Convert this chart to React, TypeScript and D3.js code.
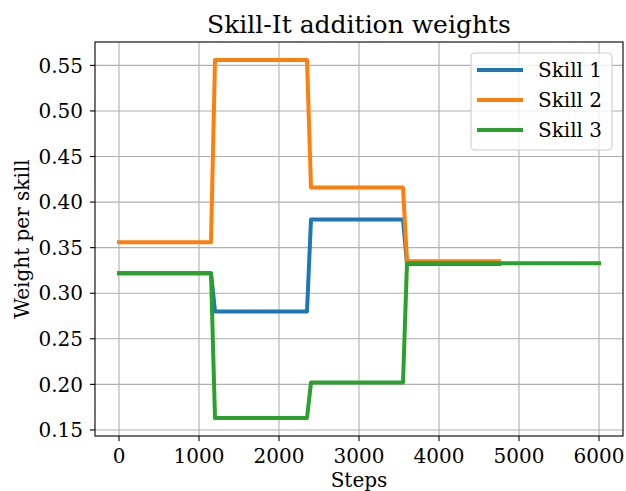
import React from "react";
import * as d3 from "d3";

const steps = [0, 1150, 1200, 2350, 2400, 3550, 3600, 4750, 6000];
const skill1 = [0.322, 0.322, 0.280, 0.280, 0.381, 0.381, 0.332, 0.332, null];
const skill2 = [0.356, 0.356, 0.556, 0.556, 0.416, 0.416, 0.335, 0.335, null];
const skill3 = [0.322, 0.322, 0.163, 0.163, 0.202, 0.202, 0.333, 0.333, 0.333];
const seriesNames = ["Skill 1", "Skill 2", "Skill 3"];
const colors = ["#1f77b4", "#ff7f0e", "#2ca02c"];
const xTicks = [0, 1000, 2000, 3000, 4000, 5000, 6000];
const yTicks = [0.15, 0.2, 0.25, 0.3, 0.35, 0.4, 0.45, 0.5, 0.55];

const W = 626, H = 491;
const L = 95, R = 623, T = 42, B = 436;
const FONT = "'DejaVu Serif', serif";
const FS = 20;

export default function App() {
  const all = [skill1, skill2, skill3];
  const vals = all.flat().filter((v) => v != null) as number[];
  const yMin = d3.min(vals)!, yMax = d3.max(vals)!;
  const yPad = (yMax - yMin) * 0.05;
  const xMin = d3.min(steps)!, xMax = d3.max(steps)!;
  const xPad = (xMax - xMin) * 0.05;
  const x = d3.scaleLinear().domain([xMin - xPad, xMax + xPad]).range([L, R]);
  const y = d3.scaleLinear().domain([yMin - yPad, yMax + yPad]).range([B, T]);

  const line = d3
    .line<[number, number | null]>()
    .defined((d) => d[1] != null)
    .x((d) => x(d[0]))
    .y((d) => y(d[1] as number));

  const lx = 471, ly = 53, lw = 141, lh = 97;

  return (
    <svg width={W} height={H} style={{ position: "absolute", left: 0, top: 0, background: "#fff" }} fontFamily={FONT}>
      <rect x={0} y={0} width={W} height={H} fill="#fff" />
      {xTicks.map((t) => (
        <line key={"gx" + t} x1={x(t)} x2={x(t)} y1={T} y2={B} stroke="#b0b0b0" strokeWidth={1.1} />
      ))}
      {yTicks.map((t) => (
        <line key={"gy" + t} x1={L} x2={R} y1={y(t)} y2={y(t)} stroke="#b0b0b0" strokeWidth={1.1} />
      ))}
      {all.map((s, i) => (
        <path
          key={i}
          d={line(steps.map((st, j) => [st, s[j]]) as any) || ""}
          fill="none"
          stroke={colors[i]}
          strokeWidth={4}
          strokeLinejoin="round"
          strokeLinecap="square"
        />
      ))}
      <rect x={L} y={T} width={R - L} height={B - T} fill="none" stroke="#000" strokeWidth={1.1} />
      {xTicks.map((t) => (
        <g key={"xt" + t}>
          <line x1={x(t)} x2={x(t)} y1={B} y2={B + 5} stroke="#000" strokeWidth={1.1} />
          <text x={x(t)} y={462.5} textAnchor="middle" fontSize={FS}>
            {t}
          </text>
        </g>
      ))}
      {yTicks.map((t) => (
        <g key={"yt" + t}>
          <line x1={L - 5} x2={L} y1={y(t)} y2={y(t)} stroke="#000" strokeWidth={1.1} />
          <text x={L - 12} y={y(t)} dy="0.36em" textAnchor="end" fontSize={FS}>
            {t.toFixed(2)}
          </text>
        </g>
      ))}
      <text x={(L + R) / 2} y={486.5} textAnchor="middle" fontSize={FS}>
        Steps
      </text>
      <text transform={`translate(29,${(T + B) / 2}) rotate(-90)`} textAnchor="middle" fontSize={FS}>
        Weight per skill
      </text>
      <text x={(L + R) / 2} y={33} textAnchor="middle" fontSize={25}>
        Skill-It addition weights
      </text>
      <rect x={lx} y={ly} width={lw} height={lh} rx={4} fill="#fff" fillOpacity={0.8} stroke="#cccccc" strokeWidth={1.1} />
      {seriesNames.map((n, i) => (
        <g key={n}>
          <line x1={477} x2={523} y1={70 + i * 30} y2={70 + i * 30} stroke={colors[i]} strokeWidth={4} />
          <text x={538} y={70 + i * 30} dy="0.36em" fontSize={FS}>
            {n}
          </text>
        </g>
      ))}
    </svg>
  );
}
